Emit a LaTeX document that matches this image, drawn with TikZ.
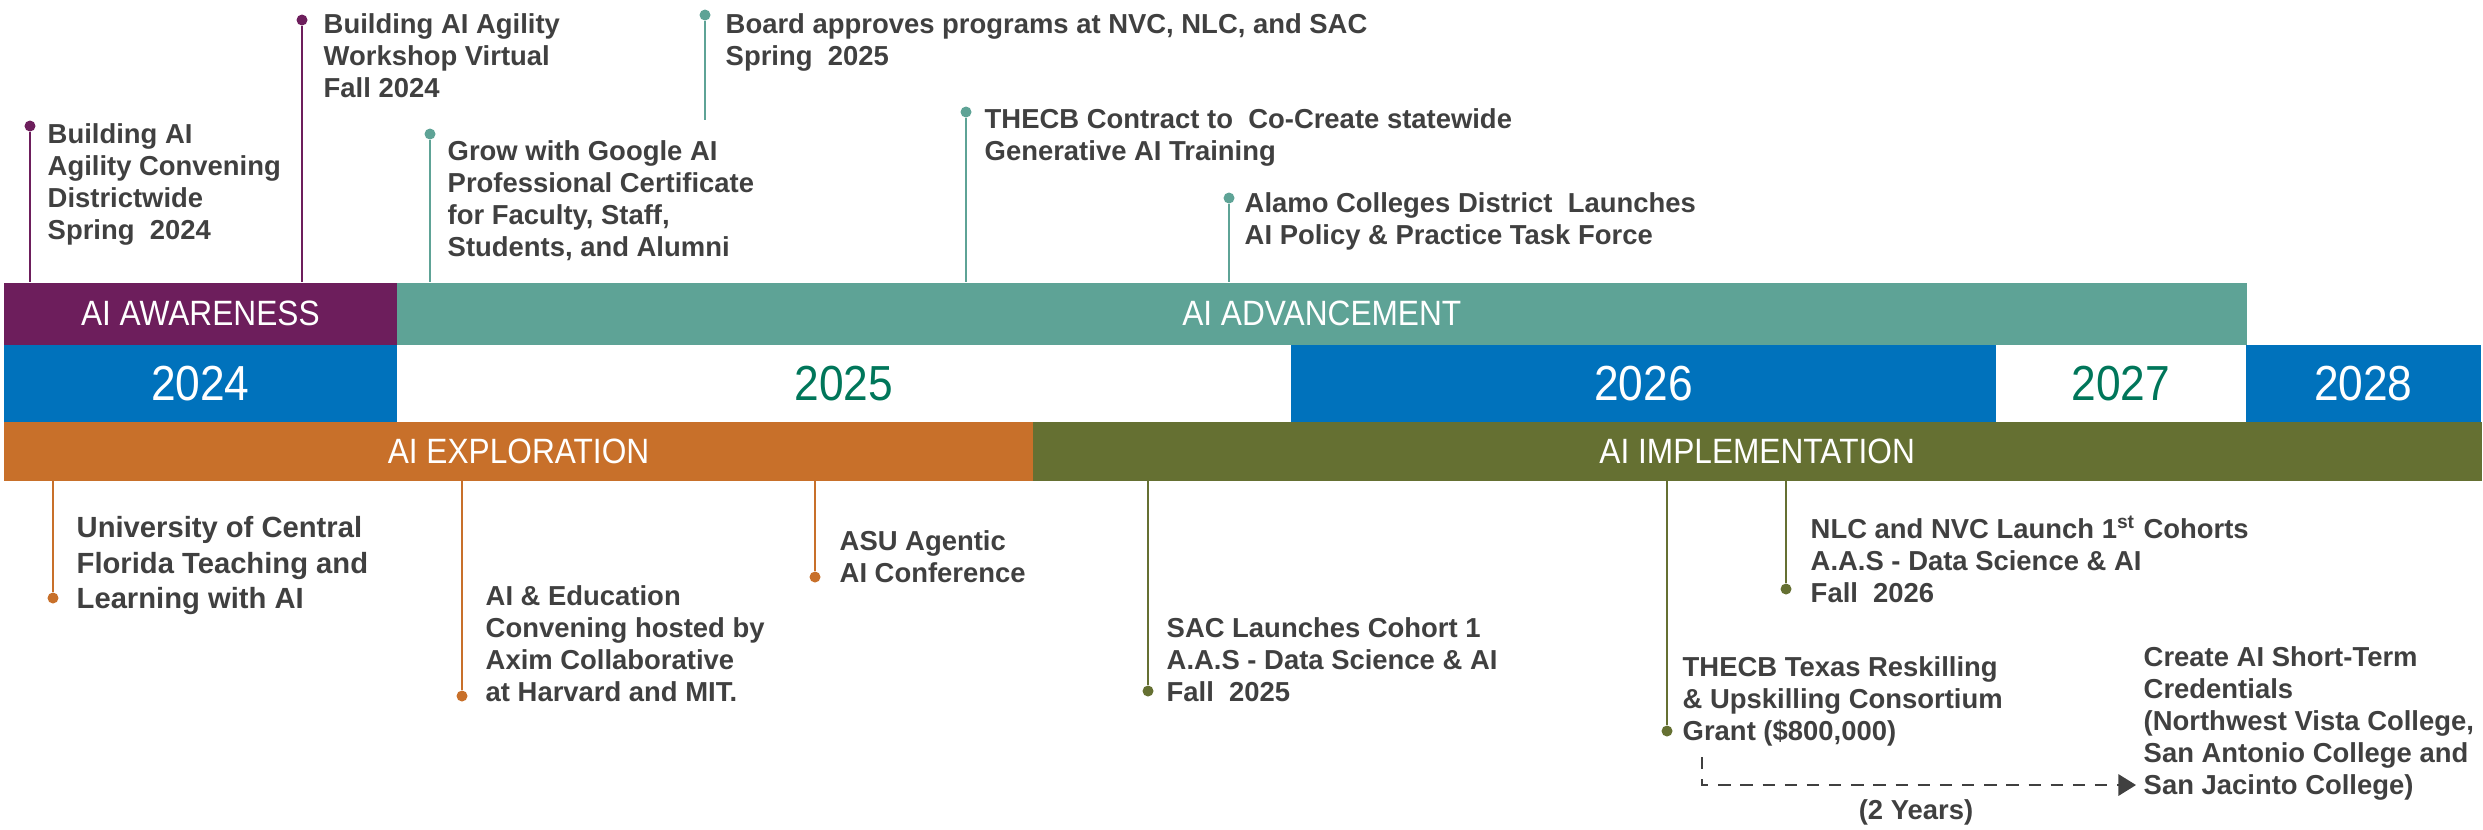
\documentclass[tikz,border=0pt]{standalone}
\usepackage{fontspec}
\setmainfont{Liberation Sans}
\newfontfamily\bandfont{Liberation Sans}[FakeStretch=0.9]
\usetikzlibrary{arrows.meta}

\definecolor{awarecol}{RGB}{109,30,92}
\definecolor{advcol}{RGB}{94,163,150}
\definecolor{yearblue}{RGB}{0,114,188}
\definecolor{yeargreen}{RGB}{0,118,90}
\definecolor{explcol}{RGB}{200,112,42}
\definecolor{implcol}{RGB}{101,112,50}
\definecolor{evtext}{RGB}{64,64,64}

\begin{document}
\begin{tikzpicture}[x=0.01cm, y=-0.01cm,
    band/.style={anchor=north west, inner sep=0, text=white, font=\bandfont\fontsize{10}{12}\selectfont},
    yr/.style={band, minimum height=0.77cm, font=\bandfont\fontsize{14}{16}\selectfont},
    ev/.style={anchor=north west, inner sep=0, align=left, text=evtext, font=\bfseries\fontsize{7.8}{9.1}\selectfont},
    dot/.style={circle, fill, inner sep=0, minimum size=0.11cm},
    stem/.style={line width=0.55pt},
    gap/.style={evtext, line width=0.8pt, dash pattern=on 3.5pt off 2.8pt, -{Triangle[length=5pt, width=6pt]}}]
    \useasboundingbox (0,0) rectangle (2483,829);

    \node[band, fill=awarecol, minimum width=3.93cm, minimum height=0.62cm] (aware) at (3,282) {AI AWARENESS};
    \node[band, fill=advcol, minimum width=18.49cm, minimum height=0.62cm] (advance) at (396,282) {AI ADVANCEMENT};
    \node[yr, fill=yearblue, minimum width=3.93cm] (y2024) at (3,344) {2024};
    \node[yr, text=yeargreen, minimum width=8.94cm] (y2025) at (396,344) {2025};
    \node[yr, fill=yearblue, minimum width=7.05cm] (y2026) at (1290,344) {2026};
    \node[yr, text=yeargreen, minimum width=2.5cm] (y2027) at (1995,344) {2027};
    \node[yr, fill=yearblue, minimum width=2.35cm] (y2028) at (2245,344) {2028};
    \node[band, fill=explcol, minimum width=10.29cm, minimum height=0.59cm] (explore) at (3,421) {AI EXPLORATION};
    \node[band, fill=implcol, minimum width=14.48cm, minimum height=0.59cm] (implement) at (1032,421) {AI IMPLEMENTATION};

    \node[dot, awarecol] (d1) at (30,126) {};
    \node[dot, awarecol] (d2) at (302,20) {};
    \node[dot, advcol] (d3) at (430,134) {};
    \node[dot, advcol] (d4) at (705,15) {};
    \node[dot, advcol] (d5) at (966,112) {};
    \node[dot, advcol] (d6) at (1229,198) {};
    \node[dot, explcol] (d7) at (53,598) {};
    \node[dot, explcol] (d8) at (462,696) {};
    \node[dot, explcol] (d9) at (815,577) {};
    \node[dot, implcol] (d10) at (1148,691) {};
    \node[dot, implcol] (d11) at (1667,731) {};
    \node[dot, implcol] (d12) at (1786,589) {};
    \coordinate (brdend) at (705,120);

    \node[ev] (ucfwork) at (47,123) {Building AI\\Agility Convening\\Districtwide\\Spring~~2024};
    \node[ev] (workshop) at (323,13) {Building AI Agility\\Workshop Virtual\\Fall 2024};
    \node[ev] (google) at (447,140) {Grow with Google AI\\Professional Certificate\\for Faculty, Staff,\\Students, and Alumni};
    \node[ev] (board) at (725,13) {Board approves programs at NVC, NLC, and SAC\\Spring~~2025};
    \node[ev] (contract) at (984,108) {THECB Contract to~~Co-Create statewide\\Generative AI Training};
    \node[ev] (taskforce) at (1244,192) {Alamo Colleges District~~Launches\\AI Policy \& Practice Task Force};
    \node[ev, font=\bfseries\fontsize{8.3}{10}\selectfont] (ucf) at (76,516) {University of Central\\Florida Teaching and\\Learning with AI};
    \node[ev] (axim) at (485,585) {AI \& Education\\Convening hosted by\\Axim Collaborative\\at Harvard and MIT.};
    \node[ev] (asu) at (839,530) {ASU Agentic\\AI Conference};
    \node[ev] (sac) at (1166,617) {SAC Launches Cohort 1\\A.A.S - Data Science \& AI\\Fall~~2025};
    \node[ev] (grant) at (1682,656) {THECB Texas Reskilling\\\& Upskilling Consortium\\Grant (\$800,000)};
    \node[ev] (nlc) at (1810,515) {NLC and NVC Launch 1\textsuperscript{st} Cohorts\\A.A.S - Data Science \& AI\\Fall~~2026};
    \node[ev] (create) at (2143,646) {Create AI Short-Term\\Credentials\\(Northwest Vista College,\\San Antonio College and\\San Jacinto College)};
    \node[ev, anchor=center] (yrs) at (1916,812) {(2 Years)};

    \draw[stem, awarecol] (d1) -- (d1 |- aware.north);
    \draw[stem, awarecol] (d2) -- (d2 |- aware.north);
    \draw[stem, advcol] (d3) -- (d3 |- advance.north);
    \draw[stem, advcol] (d4) -- (brdend);
    \draw[stem, advcol] (d5) -- (d5 |- advance.north);
    \draw[stem, advcol] (d6) -- (d6 |- advance.north);
    \draw[stem, explcol] (d7) -- (d7 |- explore.south);
    \draw[stem, explcol] (d8) -- (d8 |- explore.south);
    \draw[stem, explcol] (d9) -- (d9 |- explore.south);
    \draw[stem, implcol] (d10) -- (d10 |- implement.south);
    \draw[stem, implcol] (d11) -- (d11 |- implement.south);
    \draw[stem, implcol] (d12) -- (d12 |- implement.south);

    \coordinate (gapstart) at (1702,757);
    \coordinate (gapend) at (2136,785);
    \draw[gap] (gapstart) |- (gapend);
\end{tikzpicture}
\end{document}
